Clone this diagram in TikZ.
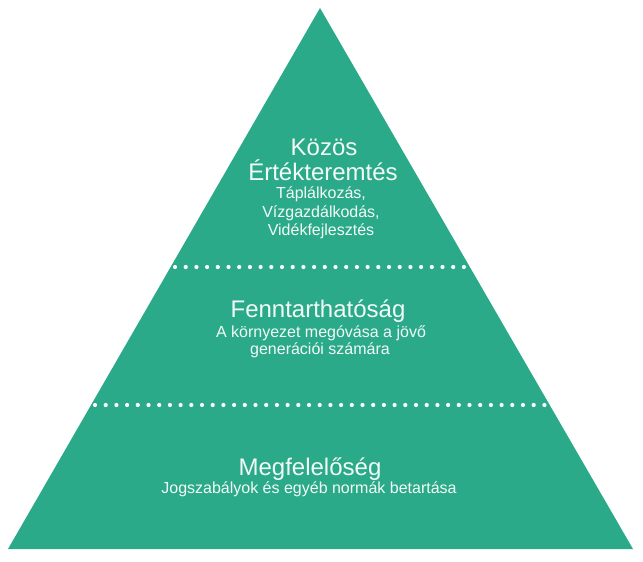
\documentclass[tikz,border=0pt]{standalone}
\usepackage{fontspec}
\setmainfont{Liberation Sans}
\definecolor{pyr}{HTML}{2BAA8A}
\definecolor{txt}{HTML}{F2FAF7}
\begin{document}
\begin{tikzpicture}[x=1pt,y=-1pt,
  big/.style={text=txt,inner sep=0pt,anchor=base,font=\fontsize{24}{26}\selectfont},
  small/.style={text=txt,inner sep=0pt,anchor=base,font=\fontsize{16}{18}\selectfont},
  dotline/.style={draw=white,line width=4.2pt,line cap=round,dash pattern=on 0pt off 10.7pt}]
\useasboundingbox (0,0) rectangle (643,562);
\fill[pyr] (320,8) coordinate (apex) -- (633,549) coordinate (br) -- (8,549) coordinate (bl) -- cycle;
\coordinate (d1a) at (175,267);
\coordinate (d1b) at (464,267);
\coordinate (d2a) at (95,405);
\coordinate (d2b) at (548,405);
\draw[dotline] (d1a) -- (d1b);
\draw[dotline] (d2a) -- (d2b);
\node[big] (t1) at (324,155) {Közös};
\node[big] (t2) at (323,180) {Értékteremtés};
\node[small] (t3) at (321,198) {Táplálkozás,};
\node[small] (t4) at (321,217) {Vízgazdálkodás,};
\node[small] (t5) at (321,235) {Vidékfejlesztés};
\node[big] (m1) at (318,317) {Fenntarthatóság};
\node[small] (m2) at (321,337) {A környezet megóvása a jövő};
\node[small] (m3) at (320,354) {generációi számára};
\node[big] (b1) at (310,475) {Megfelelőség};
\node[small] (b2) at (309,493) {Jogszabályok és egyéb normák betartása};
\end{tikzpicture}
\end{document}
